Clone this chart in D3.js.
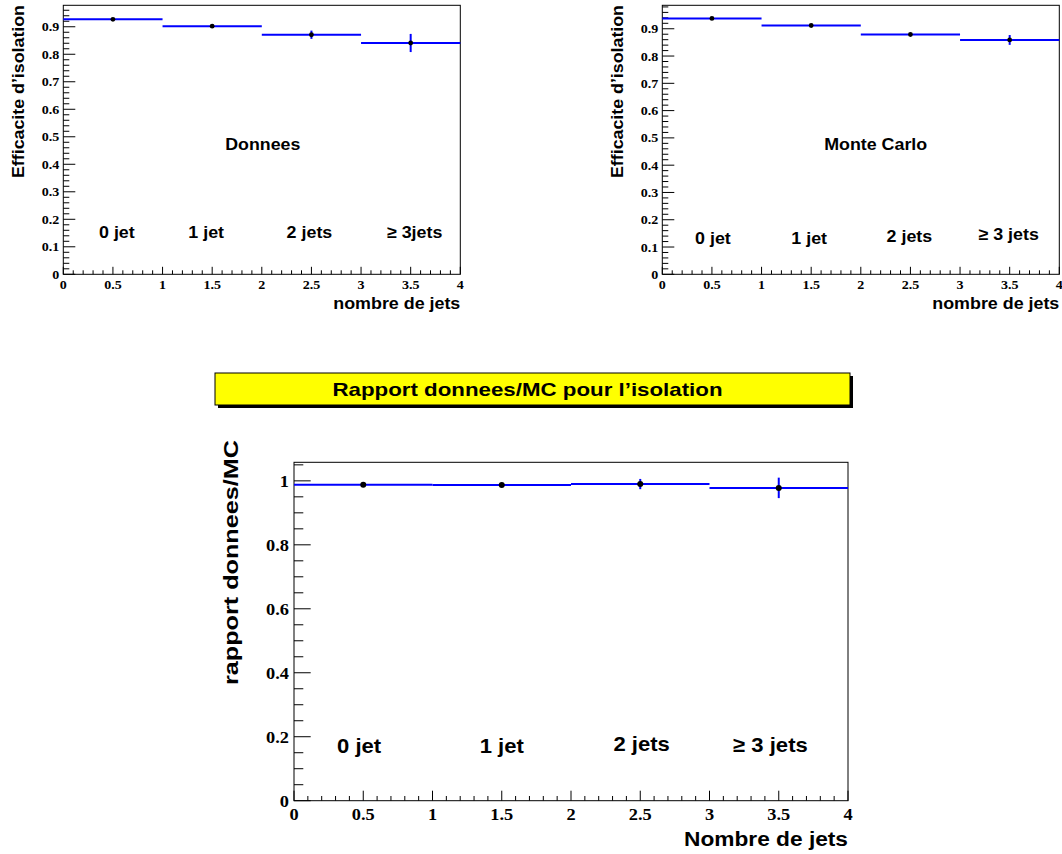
<!DOCTYPE html>
<html>
<head>
<meta charset="utf-8">
<script src="https://cdn.jsdelivr.net/npm/d3@7"></script>
<style>
  html, body { margin: 0; padding: 0; background: #ffffff; }
  svg { display: block; }
</style>
</head>
<body>
<svg id="chart" width="1062" height="854"></svg>
<script>
// ---------------- data ----------------
const binEdges   = [0, 1, 2, 3, 4];
const binCenters = [0.5, 1.5, 2.5, 3.5];

const dataEff = [0.927, 0.902, 0.871, 0.841];
const dataErr = [0.003, 0.003, 0.015, 0.033];

const mcEff = [0.938, 0.912, 0.879, 0.859];
const mcErr = [0.002, 0.002, 0.003, 0.018];

const ratioVal = [0.988, 0.987, 0.990, 0.978];
const ratioErr = [0.003, 0.003, 0.016, 0.032];

const xTickValues = [0, 0.5, 1, 1.5, 2, 2.5, 3, 3.5, 4];
const xTickLabels = ["0", "0.5", "1", "1.5", "2", "2.5", "3", "3.5", "4"];
const yTickValuesTop = [0, 0.1, 0.2, 0.3, 0.4, 0.5, 0.6, 0.7, 0.8, 0.9];
const yTickLabelsTop = ["0", "0.1", "0.2", "0.3", "0.4", "0.5", "0.6", "0.7", "0.8", "0.9"];
const yTickValuesRatio = [0, 0.2, 0.4, 0.6, 0.8, 1];
const yTickLabelsRatio = ["0", "0.2", "0.4", "0.6", "0.8", "1"];

const jetLabelsData  = ["0 jet", "1 jet", "2 jets", "\u2265 3jets"];
const jetLabelsMC    = ["0 jet", "1 jet", "2 jets", "\u2265 3 jets"];
const jetLabelsRatio = ["0 jet", "1 jet", "2 jets", "\u2265 3 jets"];

const titleText = "Rapport donnees/MC pour l\u2019isolation";

// ---------------- drawing ----------------
const svg = d3.select("#chart");
const SERIF = "'Liberation Serif', 'Times New Roman', serif";
const SANS  = "'Liberation Sans', Arial, Helvetica, sans-serif";
const BLUE = "#0000ff";

function stretch(sel, k) {
  sel.each(function () {
    const w = this.getComputedTextLength();
    d3.select(this).attr("textLength", w * k).attr("lengthAdjust", "spacingAndGlyphs");
  });
}
function fixLen(sel, w) {
  sel.attr("textLength", w).attr("lengthAdjust", "spacingAndGlyphs");
}

function drawPanel(cfg) {
  const g = svg.append("g");
  const x = d3.scaleLinear().domain([0, 4]).range([cfg.left, cfg.right]);
  const y = d3.scaleLinear().domain([0, cfg.ymax]).range([cfg.bottom, cfg.top]);

  // frame
  g.append("rect")
    .attr("x", cfg.left).attr("y", cfg.top)
    .attr("width", cfg.right - cfg.left).attr("height", cfg.bottom - cfg.top)
    .attr("fill", "none").attr("stroke", "#000").attr("stroke-width", 1);

  // x ticks (inward)
  const xMinor = d3.range(0, 40.5, 1).map(v => v / 10);
  g.selectAll(".xt").data(xMinor).enter().append("line")
    .attr("x1", d => x(d)).attr("x2", d => x(d))
    .attr("y1", cfg.bottom)
    .attr("y2", d => cfg.bottom - (Math.abs(d * 2 - Math.round(d * 2)) < 1e-6 ? cfg.xMajor : cfg.xMinorLen))
    .attr("stroke", "#000").attr("stroke-width", 1);

  // y ticks (inward)
  const nMinor = Math.floor(cfg.ymax / cfg.yMinorStep + 1e-6);
  const yMinor = d3.range(0, nMinor + 1).map(i => i * cfg.yMinorStep);
  g.selectAll(".yt").data(yMinor).enter().append("line")
    .attr("x1", cfg.left)
    .attr("x2", (d, i) => cfg.left + (i % cfg.yMinorPerMajor === 0 ? cfg.yMajor : cfg.yMinorLen))
    .attr("y1", d => y(d)).attr("y2", d => y(d))
    .attr("stroke", "#000").attr("stroke-width", 1);

  // x tick labels
  const xl = g.selectAll(".xl").data(xTickValues).enter().append("text")
    .attr("x", d => x(d)).attr("y", cfg.bottom + cfg.xLabOff)
    .attr("text-anchor", "middle")
    .attr("font-family", SERIF).attr("font-weight", "bold").attr("font-size", cfg.tickFont)
    .text((d, i) => xTickLabels[i]);
  stretch(xl, 1.08);

  // y tick labels
  const yl = g.selectAll(".yl").data(cfg.yTicks).enter().append("text")
    .attr("x", cfg.left - cfg.yLabGap).attr("y", d => y(d) + cfg.yLabDy)
    .attr("text-anchor", "end")
    .attr("font-family", SERIF).attr("font-weight", "bold").attr("font-size", cfg.tickFont)
    .text((d, i) => cfg.yLabels[i]);
  stretch(yl, 1.08);

  // histogram bins (horizontal lines)
  g.selectAll(".bin").data(cfg.vals).enter().append("line")
    .attr("x1", (d, i) => x(binEdges[i])).attr("x2", (d, i) => x(binEdges[i + 1]))
    .attr("y1", d => y(d)).attr("y2", d => y(d))
    .attr("stroke", BLUE).attr("stroke-width", 2);

  // error bars
  g.selectAll(".err").data(cfg.vals).enter().append("line")
    .attr("x1", (d, i) => x(binCenters[i])).attr("x2", (d, i) => x(binCenters[i]))
    .attr("y1", (d, i) => y(d - cfg.errs[i])).attr("y2", (d, i) => y(d + cfg.errs[i]))
    .attr("stroke", BLUE).attr("stroke-width", 2);

  // markers
  g.selectAll(".pt").data(cfg.vals).enter().append("circle")
    .attr("cx", (d, i) => x(binCenters[i])).attr("cy", d => y(d))
    .attr("r", cfg.markR).attr("fill", "#000");

  // jet labels
  cfg.labels.forEach((lab, i) => {
    const t = g.append("text")
      .attr("x", x(cfg.labPos[i][0])).attr("y", y(cfg.labPos[i][1]))
      .attr("text-anchor", "middle")
      .attr("font-family", SANS).attr("font-weight", "bold").attr("font-size", cfg.labFont)
      .text(lab);
    stretch(t, 1.05);
  });

  // central annotation
  if (cfg.note) {
    const t = g.append("text")
      .attr("x", x(cfg.notePos[0])).attr("y", y(cfg.notePos[1]))
      .attr("text-anchor", "middle")
      .attr("font-family", SANS).attr("font-weight", "bold").attr("font-size", cfg.labFont)
      .text(cfg.note);
    fixLen(t, cfg.noteLen);
  }

  // x title
  const xt = g.append("text")
    .attr("x", cfg.right).attr("y", cfg.xTitleY)
    .attr("text-anchor", "end")
    .attr("font-family", SANS).attr("font-weight", "bold").attr("font-size", cfg.titleFont)
    .text(cfg.xTitle);
  fixLen(xt, cfg.xTitleLen);

  // y title
  const yt = g.append("text")
    .attr("transform", `translate(${cfg.yTitleX},${cfg.yTitleTop}) rotate(-90)`)
    .attr("text-anchor", "end")
    .attr("font-family", SANS).attr("font-weight", "bold").attr("font-size", cfg.titleFont)
    .text(cfg.yTitle);
  fixLen(yt, cfg.yTitleLen);
}

// Top-left: data
drawPanel({
  left: 63.3, right: 460.3, top: 5.3, bottom: 274.3, ymax: 0.978,
  xMajor: 7.5, xMinorLen: 4, yMajor: 12, yMinorLen: 6, yMinorStep: 0.02, yMinorPerMajor: 5,
  tickFont: 13, xLabOff: 14.5, yLabGap: 4, yLabDy: 4.5,
  yTicks: yTickValuesTop, yLabels: yTickLabelsTop,
  vals: dataEff, errs: dataErr, markR: 2.4,
  labels: jetLabelsData, labFont: 17,
  labPos: [[0.54, 0.132], [1.44, 0.132], [2.48, 0.132], [3.54, 0.132]],
  note: "Donnees", notePos: [2.01, 0.452], noteLen: 75,
  xTitle: "nombre de jets", xTitleY: 309, xTitleLen: 127, titleFont: 16,
  yTitle: "Efficacite d\u2019isolation", yTitleX: 24, yTitleTop: 5, yTitleLen: 173
});

// Top-right: Monte Carlo
drawPanel({
  left: 662.3, right: 1059.3, top: 5.3, bottom: 274.3, ymax: 0.986,
  xMajor: 7.5, xMinorLen: 4, yMajor: 12, yMinorLen: 6, yMinorStep: 0.02, yMinorPerMajor: 5,
  tickFont: 13, xLabOff: 14.5, yLabGap: 4, yLabDy: 4.5,
  yTicks: yTickValuesTop, yLabels: yTickLabelsTop,
  vals: mcEff, errs: mcErr, markR: 2.4,
  labels: jetLabelsMC, labFont: 17,
  labPos: [[0.51, 0.111], [1.48, 0.111], [2.49, 0.118], [3.49, 0.126]],
  note: "Monte Carlo", notePos: [2.15, 0.455], noteLen: 103,
  xTitle: "nombre de jets", xTitleY: 309, xTitleLen: 127, titleFont: 16,
  yTitle: "Efficacite d\u2019isolation", yTitleX: 623, yTitleTop: 5, yTitleLen: 173
});

// Title box
const tb = { x: 215, y: 373, w: 635, h: 32 };
svg.append("rect").attr("x", tb.x + 3).attr("y", tb.y + 3).attr("width", tb.w).attr("height", tb.h).attr("fill", "#000");
svg.append("rect").attr("x", tb.x).attr("y", tb.y).attr("width", tb.w).attr("height", tb.h)
  .attr("fill", "#ffff00").attr("stroke", "#000").attr("stroke-width", 1);
const tt = svg.append("text").attr("x", tb.x + tb.w / 2 - 5).attr("y", 396)
  .attr("text-anchor", "middle")
  .attr("font-family", SANS).attr("font-weight", "bold").attr("font-size", 19)
  .text(titleText);
fixLen(tt, 390);

// Bottom: ratio
drawPanel({
  left: 294, right: 848, top: 462.3, bottom: 800.7, ymax: 1.058,
  xMajor: 10, xMinorLen: 4.7, yMajor: 16.7, yMinorLen: 9.3, yMinorStep: 0.05, yMinorPerMajor: 4,
  tickFont: 17, xLabOff: 19, yLabGap: 5, yLabDy: 6,
  yTicks: yTickValuesRatio, yLabels: yTickLabelsRatio,
  vals: ratioVal, errs: ratioErr, markR: 3,
  labels: jetLabelsRatio, labFont: 21,
  labPos: [[0.47, 0.149], [1.50, 0.149], [2.51, 0.156], [3.44, 0.152]],
  note: null,
  xTitle: "Nombre de jets", xTitleY: 846, xTitleLen: 164, titleFont: 20,
  yTitle: "rapport donnees/MC", yTitleX: 238, yTitleTop: 440, yTitleLen: 245
});
</script>
</body>
</html>
